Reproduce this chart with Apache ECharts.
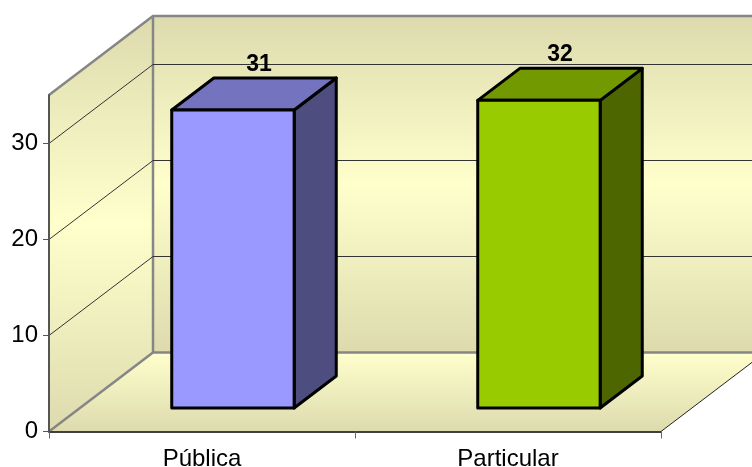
<!DOCTYPE html>
<html>
<head>
<meta charset="utf-8">
<style>
  html, body { margin: 0; padding: 0; background: #fff; }
  #chart { width: 752px; height: 467px; }
</style>
<script src="https://cdn.jsdelivr.net/npm/echarts@6/dist/echarts.min.js"></script>
</head>
<body>
<div id="chart"></div>
<script>
// dados
var categories = ['Pública', 'Particular'];
var values = [31, 32];
var yTicks = [0, 10, 20, 30];
var yMax = 35;

// profundidade da caixa 3D em pixels
var DEPTH_X = 104;
var DEPTH_Y = 79;
var BAR_WIDTH = 0.4;   // fracao da banda
var BAR_DEPTH = 0.405; // fracao da profundidade

var TAN = '#dddbae';
var LIGHT = '#ffffcc';
var EDGE = '#868686';
var FONT = '"Liberation Sans", Arial, sans-serif';

var faceColors = ['#9999ff', '#99cc00'];
var topColors = ['#7373bf', '#739900'];
var sideColors = ['#4d4d80', '#4d6600'];
var labelNudge = [3, -2];

var chart = echarts.init(document.getElementById('chart'));

function wallFill() {
    return new echarts.graphic.LinearGradient(0, 0, 0, 1, [
        { offset: 0, color: TAN },
        { offset: 0.5, color: LIGHT },
        { offset: 1, color: TAN }
    ]);
}

function renderWalls(params, api) {
    var c = params.coordSys;
    var l = c.x, r = c.x + c.width, t = c.y, b = c.y + c.height;
    var bl = l + DEPTH_X, br = r + DEPTH_X, bt = t - DEPTH_Y, bb = b - DEPTH_Y;

    var edgeStyle = { stroke: EDGE, lineWidth: 2.5, fill: null };
    return {
        type: 'group',
        children: [
            { type: 'polygon', shape: { points: [[bl, bt], [br, bt], [br, bb], [bl, bb]] },
              style: { fill: wallFill() } },
            { type: 'polygon', shape: { points: [[l, t], [bl, bt], [bl, bb], [l, b]] },
              style: { fill: wallFill() } },
            { type: 'polygon', shape: { points: [[l, b], [bl, bb], [br, bb], [r, b]] },
              style: { fill: new echarts.graphic.LinearGradient(0, 0, 0, 1, [
                  { offset: 0, color: LIGHT }, { offset: 1, color: TAN }
              ]) } },
            { type: 'polyline', shape: { points: [[l, t], [bl, bt], [br, bt]] }, style: edgeStyle },
            { type: 'polyline', shape: { points: [[bl, bt], [bl, bb], [br, bb]] }, style: edgeStyle },
            { type: 'polyline', shape: { points: [[l, b], [bl, bb]] }, style: edgeStyle },
            { type: 'polyline', shape: { points: [[r, b], [br, bb]] }, style: { stroke: '#222', lineWidth: 1, fill: null } }
        ]
    };
}

function renderGridLine(params, api) {
    var c = params.coordSys;
    var y = Math.round(api.coord([0, api.value(1)])[1]) + 0.5;
    var l = c.x, r = c.x + c.width;
    return {
        type: 'polyline',
        shape: { points: [[l, y], [l + DEPTH_X, y - DEPTH_Y], [r + DEPTH_X, y - DEPTH_Y]] },
        style: { stroke: '#333', lineWidth: 1, fill: null }
    };
}

function renderBar(params, api) {
    var p = api.coord([api.value(0), api.value(1)]);
    var base = api.coord([api.value(0), 0]);
    var band = api.size([1, 0])[0];
    var w = band * BAR_WIDTH;
    var dx = DEPTH_X * BAR_DEPTH, dy = DEPTH_Y * BAR_DEPTH;
    // a barra fica centrada na profundidade da caixa
    var ox = (DEPTH_X - dx) / 2, oy = (DEPTH_Y - dy) / 2;
    var x0 = p[0] - w / 2 + ox, x1 = x0 + w;
    var yt = p[1] - oy, yb = base[1] - oy;
    var i = params.dataIndex;
    var line = { stroke: '#000', lineWidth: 3, lineJoin: 'round' };
    return {
        type: 'group',
        children: [
            { type: 'polygon', shape: { points: [[x1, yt], [x1 + dx, yt - dy], [x1 + dx, yb - dy], [x1, yb]] },
              style: Object.assign({ fill: sideColors[i] }, line) },
            { type: 'polygon', shape: { points: [[x0, yt], [x0 + dx, yt - dy], [x1 + dx, yt - dy], [x1, yt]] },
              style: Object.assign({ fill: topColors[i] }, line) },
            { type: 'rect', shape: { x: x0, y: yt, width: w, height: yb - yt },
              style: Object.assign({ fill: faceColors[i] }, line) },
            { type: 'text', x: p[0] + ox + dx / 2 + 2 + labelNudge[i], y: yt - dy - 13.5,
              style: { text: String(api.value(1)), fill: '#000', font: 'bold 23px ' + FONT, align: 'center', verticalAlign: 'middle' } }
        ]
    };
}

chart.setOption({
    animation: false,
    backgroundColor: '#fff',
    grid: { left: 49, top: 95, width: 612, height: 336.5, outerBoundsMode: 'none' },
    xAxis: {
        type: 'category',
        data: categories,
        z: 5,
        axisLine: { lineStyle: { color: '#404040', width: 2 } },
        axisTick: { show: true, alignWithLabel: false, length: 7, lineStyle: { color: '#666', width: 1 } },
        axisLabel: { color: '#000', fontFamily: FONT, fontSize: 24, margin: 16 }
    },
    yAxis: {
        type: 'value',
        min: 0,
        max: yMax,
        z: 5,
        splitLine: { show: false },
        axisLine: { show: true, lineStyle: { color: '#555', width: 2 } },
        axisTick: { show: true, customValues: yTicks, length: 6, lineStyle: { color: '#555', width: 1 } },
        axisLabel: { customValues: yTicks, color: '#000', fontFamily: FONT, fontSize: 24, margin: 11, padding: [7, 0, 0, 0] }
    },
    series: [
        { type: 'custom', coordinateSystem: 'cartesian2d', z: 1, silent: true, renderItem: renderWalls, data: [[0, 0]] },
        { type: 'custom', coordinateSystem: 'cartesian2d', z: 2, silent: true, renderItem: renderGridLine,
          data: yTicks.slice(1).map(function (t) { return [0, t]; }) },
        { type: 'custom', coordinateSystem: 'cartesian2d', z: 3, renderItem: renderBar,
          data: values.map(function (v, i) { return [i, v]; }) }
    ]
});
</script>
</body>
</html>
